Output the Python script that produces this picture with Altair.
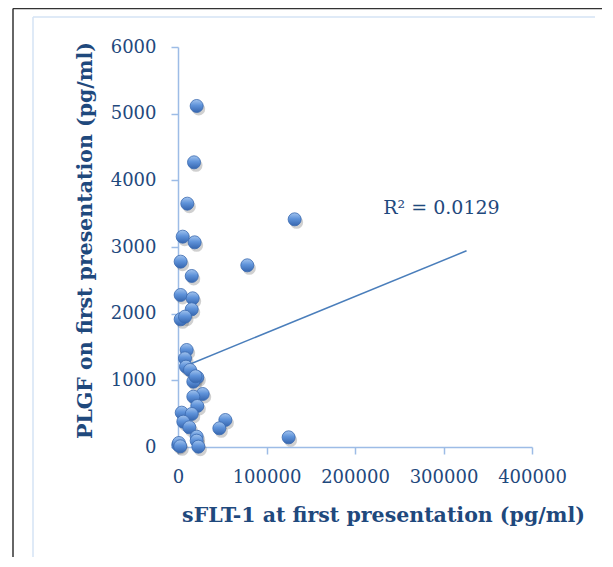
import altair as alt
import pandas as pd

# sFLT-1 (x) and PLGF (y) at first presentation, pg/ml
sflt1 = [21100, 18100, 10500, 5300, 18800, 3000, 78300, 15500, 131800,
         3000, 16600, 15500, 3000, 7900, 9800, 7900, 9000, 13600, 21800,
         17300, 27900, 17300, 21800, 4200, 15500, 6000, 12800, 53500,
         46700, 125000, 300, 21100, 21100, 23000, 1000, 2500, 19800]
plgf = [5115, 4270, 3650, 3155, 3070, 2780, 2725, 2565, 3415,
        2280, 2230, 2065, 1915, 1955, 1455, 1330, 1205, 1155, 1045,
        980, 795, 755, 615, 515, 495, 380, 295, 405,
        280, 145, 30, 155, 95, 5, 60, 10, 1060]

trend_x = [5000, 326000]
trend_y = [1197, 2943]

r2_text = ["R\u00b2 = 0.0129"]
r2_x = [297700]
r2_y = [3585]

x_ticks = [0, 100000, 200000, 300000, 400000]
y_ticks = [0, 1000, 2000, 3000, 4000, 5000, 6000]

pts = pd.DataFrame({"x": sflt1, "y": plgf})
trend = pd.DataFrame({"x": trend_x, "y": trend_y})
lab = pd.DataFrame({"x": r2_x, "y": r2_y, "t": r2_text})

TXT = "#1F497D"
AX = "#9DBCE6"
FONT = "DejaVu Serif"

xs = alt.Scale(domain=[0, 400000], nice=False)
ys = alt.Scale(domain=[0, 6000], nice=False)

xax = alt.Axis(values=x_ticks, format="d", grid=False, tickSize=7,
               labelPadding=14, labelOverlap=False, labelFlush=False,
               title="sFLT-1 at first presentation (pg/ml)",
               titleX=205, titleY=68, titleAlign="center", titleBaseline="middle")
yax = alt.Axis(values=y_ticks, format="d", grid=False, tickSize=7,
               labelPadding=15, labelOverlap=False, labelFlush=False,
               title="PLGF on first presentation (pg/ml)",
               titleX=-93, titleY=193, titleAngle=270, titleAlign="center",
               titleBaseline="middle")

grad = {"gradient": "linear", "x1": 0, "y1": 0, "x2": 0, "y2": 1,
        "stops": [{"offset": 0, "color": "#A3C4EE"},
                  {"offset": 0.45, "color": "#5F93DA"},
                  {"offset": 1, "color": "#3565AE"}]}

one = pd.DataFrame({"a": [0]})

outer_left = alt.Chart(one).mark_rule(color="#333333", strokeWidth=1.5).encode(
    x=alt.value(-165), y=alt.value(-38.5), y2=alt.value(560))
outer_top = alt.Chart(one).mark_rule(color="#333333", strokeWidth=1.5).encode(
    x=alt.value(-165), x2=alt.value(460), y=alt.value(-38.5))

inner_left = alt.Chart(one).mark_rule(color="#D5E3F5", strokeWidth=1.5).encode(
    x=alt.value(-145), y=alt.value(-30), y2=alt.value(513))
inner_top = alt.Chart(one).mark_rule(color="#D5E3F5", strokeWidth=1.5).encode(
    x=alt.value(-145), x2=alt.value(417), y=alt.value(-30))
inner_bottom = alt.Chart(one).mark_rule(color="#D5E3F5", strokeWidth=1.5).encode(
    x=alt.value(-145), x2=alt.value(417), y=alt.value(513))

shadow = alt.Chart(pts).mark_circle(
    size=170, color="#555555", opacity=0.28, xOffset=2, yOffset=3
).encode(x=alt.X("x:Q", scale=xs, axis=xax), y=alt.Y("y:Q", scale=ys, axis=yax))

line = alt.Chart(trend).mark_line(color="#4A7EBB", strokeWidth=1.5).encode(
    x=alt.X("x:Q", scale=xs), y=alt.Y("y:Q", scale=ys))

points = alt.Chart(pts).mark_point(
    filled=True, shape="circle", size=170, fill=grad, opacity=1,
    stroke="#3A6AB0", strokeWidth=0.8
).encode(x=alt.X("x:Q", scale=xs), y=alt.Y("y:Q", scale=ys))

text = alt.Chart(lab).mark_text(
    font=FONT, fontSize=19, color=TXT, align="center", baseline="middle"
).encode(x=alt.X("x:Q", scale=xs), y=alt.Y("y:Q", scale=ys), text="t:N")

chart = alt.layer(outer_left, outer_top, inner_left, inner_top, inner_bottom,
                  shadow, line, points, text).properties(
    width=354, height=400,
    autosize=alt.AutoSizeParams(type="none"),
    padding={"left": 170, "top": 39, "right": 70, "bottom": 110},
).configure_view(stroke=None).configure_axis(
    domainColor=AX, tickColor=AX, domainWidth=1.5, tickWidth=1.5,
    labelFont=FONT, labelFontSize=18, labelColor=TXT,
    titleFont=FONT, titleFontSize=20.5, titleFontWeight="bold", titleColor=TXT,
)

chart.save("out.html", embed_options={"renderer": "svg", "actions": False})
